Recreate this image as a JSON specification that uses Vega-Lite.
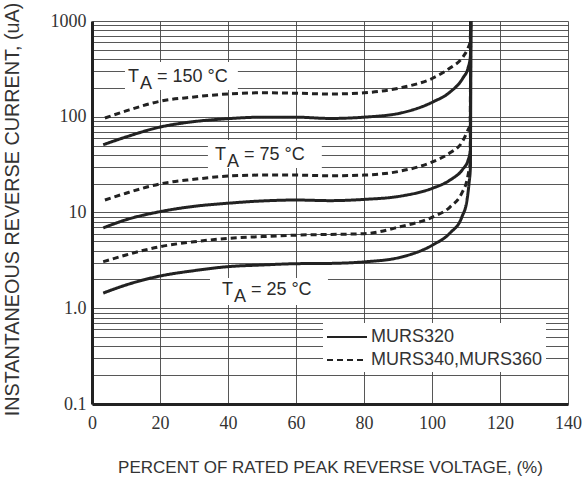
{
  "$schema": "https://vega.github.io/schema/vega-lite/v6.json",
  "width": 476,
  "height": 383,
  "autosize": "none",
  "padding": {"left": 92, "top": 21, "right": 19, "bottom": 76},
  "background": "white",
  "config": {"view": {"stroke": null}, "font": "Liberation Sans"},
  "datasets": {
    "curves": [
      {"c": "S150", "d": "MURS320", "x": 3.3, "y": 51},
      {"c": "S150", "d": "MURS320", "x": 10, "y": 61.5},
      {"c": "S150", "d": "MURS320", "x": 20, "y": 78},
      {"c": "S150", "d": "MURS320", "x": 30, "y": 89},
      {"c": "S150", "d": "MURS320", "x": 40, "y": 95.5},
      {"c": "S150", "d": "MURS320", "x": 50, "y": 99},
      {"c": "S150", "d": "MURS320", "x": 60, "y": 99},
      {"c": "S150", "d": "MURS320", "x": 70, "y": 96},
      {"c": "S150", "d": "MURS320", "x": 80, "y": 99},
      {"c": "S150", "d": "MURS320", "x": 90.6, "y": 109},
      {"c": "S150", "d": "MURS320", "x": 100.3, "y": 143},
      {"c": "S150", "d": "MURS320", "x": 105.3, "y": 181},
      {"c": "S150", "d": "MURS320", "x": 109.1, "y": 254},
      {"c": "S150", "d": "MURS320", "x": 110.6, "y": 323},
      {"c": "S150", "d": "MURS320", "x": 111.3, "y": 430},
      {"c": "S150", "d": "MURS320", "x": 111.4, "y": 1000},
      {"c": "D150", "d": "MURS340,MURS360", "x": 3.8, "y": 97},
      {"c": "D150", "d": "MURS340,MURS360", "x": 10, "y": 115},
      {"c": "D150", "d": "MURS340,MURS360", "x": 20, "y": 145},
      {"c": "D150", "d": "MURS340,MURS360", "x": 30, "y": 161},
      {"c": "D150", "d": "MURS340,MURS360", "x": 40, "y": 173},
      {"c": "D150", "d": "MURS340,MURS360", "x": 50, "y": 178},
      {"c": "D150", "d": "MURS340,MURS360", "x": 60, "y": 176},
      {"c": "D150", "d": "MURS340,MURS360", "x": 70, "y": 173},
      {"c": "D150", "d": "MURS340,MURS360", "x": 80, "y": 178},
      {"c": "D150", "d": "MURS340,MURS360", "x": 90.6, "y": 200},
      {"c": "D150", "d": "MURS340,MURS360", "x": 100.3, "y": 254},
      {"c": "D150", "d": "MURS340,MURS360", "x": 105.3, "y": 323},
      {"c": "D150", "d": "MURS340,MURS360", "x": 109.1, "y": 421},
      {"c": "D150", "d": "MURS340,MURS360", "x": 110.6, "y": 522},
      {"c": "D150", "d": "MURS340,MURS360", "x": 111.2, "y": 600},
      {"c": "D150", "d": "MURS340,MURS360", "x": 111.4, "y": 1000},
      {"c": "S75", "d": "MURS320", "x": 3.3, "y": 6.9},
      {"c": "S75", "d": "MURS320", "x": 10, "y": 8.4},
      {"c": "S75", "d": "MURS320", "x": 20, "y": 10.2},
      {"c": "S75", "d": "MURS320", "x": 30, "y": 11.6},
      {"c": "S75", "d": "MURS320", "x": 40, "y": 12.5},
      {"c": "S75", "d": "MURS320", "x": 50, "y": 13.2},
      {"c": "S75", "d": "MURS320", "x": 60, "y": 13.5},
      {"c": "S75", "d": "MURS320", "x": 70, "y": 13.3},
      {"c": "S75", "d": "MURS320", "x": 80, "y": 13.7},
      {"c": "S75", "d": "MURS320", "x": 90.6, "y": 14.8},
      {"c": "S75", "d": "MURS320", "x": 100.3, "y": 18},
      {"c": "S75", "d": "MURS320", "x": 105.3, "y": 21.8},
      {"c": "S75", "d": "MURS320", "x": 109.1, "y": 28.5},
      {"c": "S75", "d": "MURS320", "x": 110.6, "y": 35},
      {"c": "S75", "d": "MURS320", "x": 111.3, "y": 45},
      {"c": "S75", "d": "MURS320", "x": 111.4, "y": 1000},
      {"c": "D75", "d": "MURS340,MURS360", "x": 3.8, "y": 13.5},
      {"c": "D75", "d": "MURS340,MURS360", "x": 10, "y": 15.9},
      {"c": "D75", "d": "MURS340,MURS360", "x": 20, "y": 19.9},
      {"c": "D75", "d": "MURS340,MURS360", "x": 30, "y": 22.2},
      {"c": "D75", "d": "MURS340,MURS360", "x": 40, "y": 24},
      {"c": "D75", "d": "MURS340,MURS360", "x": 50, "y": 24.6},
      {"c": "D75", "d": "MURS340,MURS360", "x": 60, "y": 24.6},
      {"c": "D75", "d": "MURS340,MURS360", "x": 70, "y": 24.2},
      {"c": "D75", "d": "MURS340,MURS360", "x": 80, "y": 24.6},
      {"c": "D75", "d": "MURS340,MURS360", "x": 90.6, "y": 27},
      {"c": "D75", "d": "MURS340,MURS360", "x": 100.3, "y": 34},
      {"c": "D75", "d": "MURS340,MURS360", "x": 105.3, "y": 42},
      {"c": "D75", "d": "MURS340,MURS360", "x": 108.8, "y": 54},
      {"c": "D75", "d": "MURS340,MURS360", "x": 110.6, "y": 73},
      {"c": "D75", "d": "MURS340,MURS360", "x": 111.2, "y": 82},
      {"c": "D75", "d": "MURS340,MURS360", "x": 111.4, "y": 1000},
      {"c": "S25", "d": "MURS320", "x": 3.3, "y": 1.44},
      {"c": "S25", "d": "MURS320", "x": 10, "y": 1.75},
      {"c": "S25", "d": "MURS320", "x": 20, "y": 2.17},
      {"c": "S25", "d": "MURS320", "x": 30, "y": 2.47},
      {"c": "S25", "d": "MURS320", "x": 40, "y": 2.72},
      {"c": "S25", "d": "MURS320", "x": 50, "y": 2.83},
      {"c": "S25", "d": "MURS320", "x": 60, "y": 2.92},
      {"c": "S25", "d": "MURS320", "x": 70, "y": 2.94},
      {"c": "S25", "d": "MURS320", "x": 80, "y": 3.05},
      {"c": "S25", "d": "MURS320", "x": 90.6, "y": 3.4},
      {"c": "S25", "d": "MURS320", "x": 100.3, "y": 4.6},
      {"c": "S25", "d": "MURS320", "x": 105.3, "y": 6.1},
      {"c": "S25", "d": "MURS320", "x": 108.8, "y": 9.0},
      {"c": "S25", "d": "MURS320", "x": 110.3, "y": 13.5},
      {"c": "S25", "d": "MURS320", "x": 110.9, "y": 20.3},
      {"c": "S25", "d": "MURS320", "x": 111.3, "y": 30},
      {"c": "S25", "d": "MURS320", "x": 111.4, "y": 1000},
      {"c": "D25", "d": "MURS340,MURS360", "x": 3.3, "y": 3.06},
      {"c": "D25", "d": "MURS340,MURS360", "x": 10, "y": 3.6},
      {"c": "D25", "d": "MURS340,MURS360", "x": 20, "y": 4.4},
      {"c": "D25", "d": "MURS340,MURS360", "x": 30, "y": 4.95},
      {"c": "D25", "d": "MURS340,MURS360", "x": 40, "y": 5.37},
      {"c": "D25", "d": "MURS340,MURS360", "x": 50, "y": 5.6},
      {"c": "D25", "d": "MURS340,MURS360", "x": 60, "y": 5.8},
      {"c": "D25", "d": "MURS340,MURS360", "x": 70, "y": 5.9},
      {"c": "D25", "d": "MURS340,MURS360", "x": 80, "y": 6.0},
      {"c": "D25", "d": "MURS340,MURS360", "x": 90.6, "y": 7.1},
      {"c": "D25", "d": "MURS340,MURS360", "x": 100.3, "y": 9.0},
      {"c": "D25", "d": "MURS340,MURS360", "x": 105.3, "y": 11.4},
      {"c": "D25", "d": "MURS340,MURS360", "x": 108.8, "y": 16},
      {"c": "D25", "d": "MURS340,MURS360", "x": 110.3, "y": 21.8},
      {"c": "D25", "d": "MURS340,MURS360", "x": 110.9, "y": 28},
      {"c": "D25", "d": "MURS340,MURS360", "x": 111.2, "y": 32},
      {"c": "D25", "d": "MURS340,MURS360", "x": 111.4, "y": 1000}
    ],
    "boxes": [
      {"x": 9.7, "x2": 42.9, "y": 373, "y2": 190},
      {"x": 34.1, "x2": 67.6, "y": 57, "y2": 29.2},
      {"x": 34.7, "x2": 69.4, "y": 2.07, "y2": 1.08}
    ],
    "labels": [
      {"x": 10.6, "y": 231, "t": "T", "s": "A", "r": "= 150 °C"},
      {"x": 36.2, "y": 35.3, "t": "T", "s": "A", "r": "= 75 °C"},
      {"x": 38.2, "y": 1.37, "t": "T", "s": "A", "r": "= 25 °C"}
    ]
  },
  "encoding": {
    "x": {
      "field": "x", "type": "quantitative",
      "scale": {"domain": [0, 140], "nice": false, "zero": false},
      "axis": {
        "title": "PERCENT OF RATED PEAK REVERSE VOLTAGE, (%)",
        "values": [0, 20, 40, 60, 80, 100, 120, 140],
        "grid": true, "gridColor": "#444", "gridWidth": 0.9,
        "ticks": false,
        "domainColor": "#222", "domainWidth": 3,
        "labelFont": "Liberation Sans Narrow", "labelFontSize": 18, "labelColor": "#333",
        "labelPadding": 10, "labelFlush": false, "labelOverlap": false, "labelBound": false,
        "titleFont": "Liberation Sans", "titleFontSize": 17, "titleFontWeight": "normal", "titleColor": "#333",
        "titleX": 238, "titleY": 68, "titleAlign": "center", "titleBaseline": "alphabetic"
      }
    },
    "y": {
      "field": "y", "type": "quantitative",
      "scale": {"type": "log", "domain": [0.1, 1000], "nice": false},
      "axis": {
        "title": "INSTANTANEOUS REVERSE CURRENT, (uA)",
        "values": [0.1, 0.2, 0.3, 0.4, 0.5, 0.6, 0.7, 0.8, 0.9, 1, 2, 3, 4, 5, 6, 7, 8, 9, 10, 20, 30, 40, 50, 60, 70, 80, 90, 100, 200, 300, 400, 500, 600, 700, 800, 900, 1000],
        "labelExpr": "datum.value == 0.1 ? '0.1' : datum.value == 1 ? '1.0' : datum.value == 10 ? '10' : datum.value == 100 ? '100' : datum.value == 1000 ? '1000' : ''",
        "grid": true, "gridColor": "#444", "gridWidth": 0.9,
        "ticks": false,
        "domainColor": "#222", "domainWidth": 3,
        "labelFont": "Liberation Sans Narrow", "labelFontSize": 18, "labelColor": "#333",
        "labelPadding": 6, "labelFlush": false, "labelOverlap": false, "labelBound": false,
        "titleFont": "Liberation Sans", "titleFontSize": 19.8, "titleFontWeight": "normal", "titleColor": "#333",
        "titleX": -80, "titleY": 188, "titleAngle": -90, "titleAlign": "center", "titleBaseline": "middle"
      }
    }
  },
  "layer": [
    {
      "data": {"name": "boxes"},
      "mark": {"type": "rect", "color": "white", "opacity": 1},
      "encoding": {"x2": {"field": "x2"}, "y2": {"field": "y2"}}
    },
    {
      "data": {"name": "curves"},
      "mark": {"type": "line", "color": "#222", "strokeWidth": 3, "interpolate": "monotone"},
      "encoding": {
        "detail": {"field": "c", "type": "nominal"},
        "strokeDash": {
          "field": "d", "type": "nominal",
          "scale": {"domain": ["MURS320", "MURS340,MURS360"], "range": [[1, 0], [6, 4]]},
          "legend": {
            "orient": "none", "legendX": 231, "legendY": 302, "title": null,
            "fillColor": "white", "padding": 3,
            "symbolType": "M-1,0H3", "symbolSize": 400, "symbolStrokeWidth": 2, "symbolStrokeColor": "#222",
            "labelFont": "Liberation Sans", "labelFontSize": 18, "labelColor": "#333", "labelLimit": 400,
            "rowPadding": 3, "labelOffset": 23
          }
        }
      }
    },
    {
      "data": {"name": "labels"},
      "mark": {"type": "text", "align": "left", "baseline": "alphabetic", "font": "Liberation Sans", "fontSize": 18, "color": "#2a2a2a"},
      "encoding": {"text": {"field": "t"}}
    },
    {
      "data": {"name": "labels"},
      "mark": {"type": "text", "align": "left", "baseline": "alphabetic", "font": "Liberation Sans", "fontSize": 18, "color": "#2a2a2a", "dx": 12, "dy": 7},
      "encoding": {"text": {"field": "s"}}
    },
    {
      "data": {"name": "labels"},
      "mark": {"type": "text", "align": "left", "baseline": "alphabetic", "font": "Liberation Sans", "fontSize": 18, "color": "#2a2a2a", "dx": 29},
      "encoding": {"text": {"field": "r"}}
    }
  ]
}
